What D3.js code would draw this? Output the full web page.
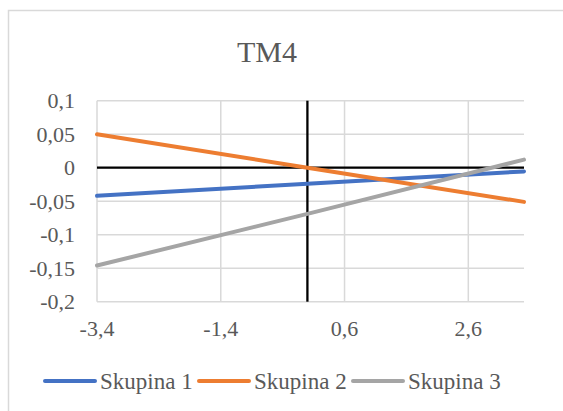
<!DOCTYPE html>
<html>
<head>
<meta charset="utf-8">
<script src="https://cdn.jsdelivr.net/npm/d3@7"></script>
<style>
  body { margin: 0; background: #fff; }
</style>
</head>
<body>
<svg id="chart"></svg>
<script>
// Chart values
const title = "TM4";
const seriesNames = ["Skupina 1", "Skupina 2", "Skupina 3"];
const xValues = [-3.4, 0, 3.5];
const skupina1 = [-0.042, -0.024, -0.0055];
const skupina2 = [0.05, 0, -0.051];
const skupina3 = [-0.146, -0.069, 0.012];
const xTicks = [-3.4, -1.4, 0.6, 2.6];
const yTicks = [-0.2, -0.15, -0.1, -0.05, 0, 0.05, 0.1];

const colors = ["#4472C4", "#ED7D31", "#A5A5A5"];
const width = 563;
const height = 411;
const plot = { left: 97, right: 524, top: 100.7, bottom: 301.7 };
const serif = "'Liberation Serif', 'DejaVu Serif', serif";
const baseSize = 18;

const svg = d3.select("#chart")
    .attr("width", width)
    .attr("height", height)
    .style("display", "block");

// text drawn at a base size and scaled, anchored at (x, y)
function label(parent, x, y, size, anchor, txt) {
    return parent.append("text")
        .attr("transform", `translate(${x},${y}) scale(${size / baseSize})`)
        .attr("text-anchor", anchor)
        .attr("font-family", serif)
        .attr("font-size", baseSize)
        .attr("fill", "#595959")
        .text(txt);
}

// chart area border (cut off on the right and bottom)
svg.append("rect")
    .attr("x", 8.5)
    .attr("y", 10.5)
    .attr("width", 600)
    .attr("height", 450)
    .attr("fill", "#fff")
    .attr("stroke", "#d9d9d9")
    .attr("stroke-width", 1.5);

const xScale = d3.scaleLinear()
    .domain([-3.4, 3.5])
    .range([plot.left, plot.right]);

const yScale = d3.scaleLinear()
    .domain([-0.2, 0.1])
    .range([plot.bottom, plot.top]);

const fmt = v => String(+v.toFixed(2)).replace(".", ",");

// horizontal gridlines
svg.append("g")
    .selectAll("line")
    .data(yTicks)
    .enter()
    .append("line")
    .attr("x1", plot.left)
    .attr("x2", plot.right)
    .attr("y1", d => yScale(d))
    .attr("y2", d => yScale(d))
    .attr("stroke", "#d9d9d9")
    .attr("stroke-width", 1.5);

// vertical gridlines
svg.append("g")
    .selectAll("line")
    .data(xTicks)
    .enter()
    .append("line")
    .attr("x1", d => xScale(d))
    .attr("x2", d => xScale(d))
    .attr("y1", plot.top)
    .attr("y2", plot.bottom)
    .attr("stroke", "#d9d9d9")
    .attr("stroke-width", 1.5);

// axis lines crossing at zero
svg.append("line")
    .attr("x1", plot.left)
    .attr("x2", plot.right)
    .attr("y1", yScale(0))
    .attr("y2", yScale(0))
    .attr("stroke", "#000")
    .attr("stroke-width", 2.3);

svg.append("line")
    .attr("x1", xScale(0))
    .attr("x2", xScale(0))
    .attr("y1", plot.top)
    .attr("y2", plot.bottom)
    .attr("stroke", "#000")
    .attr("stroke-width", 2.3);

// tick labels (positioned low / left like Excel)
const yLabels = svg.append("g");
yTicks.forEach(t => label(yLabels, 75, yScale(t) + 7.5, 22, "end", fmt(t)));

const xLabels = svg.append("g");
xTicks.forEach(t => label(xLabels, xScale(t), 336, 22, "middle", fmt(t)));

// series lines
const allSeries = [skupina1, skupina2, skupina3];
const line = d3.line()
    .x((d, i) => xScale(xValues[i]))
    .y(d => yScale(d));

svg.append("g")
    .selectAll("path")
    .data(allSeries)
    .enter()
    .append("path")
    .attr("d", line)
    .attr("fill", "none")
    .attr("stroke", (d, i) => colors[i])
    .attr("stroke-width", 4)
    .attr("stroke-linecap", "round");

// title
label(svg, 267, 62, 30, "middle", title);

// legend
const legendX = [45, 199, 353];
const legend = svg.append("g")
    .selectAll("g")
    .data(seriesNames)
    .enter()
    .append("g")
    .attr("transform", (d, i) => `translate(${legendX[i]}, 381)`);

legend.append("line")
    .attr("x1", 0)
    .attr("x2", 50)
    .attr("stroke", (d, i) => colors[i])
    .attr("stroke-width", 4)
    .attr("stroke-linecap", "round");

legend.each(function (d) {
    label(d3.select(this), 55, 8, 23, "start", d);
});
</script>
</body>
</html>
